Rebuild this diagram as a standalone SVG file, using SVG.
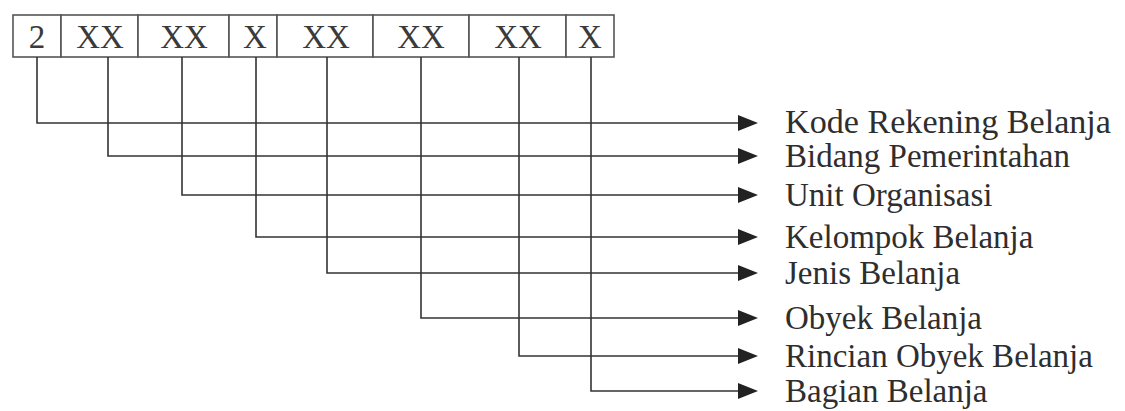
<svg xmlns="http://www.w3.org/2000/svg" width="1125" height="411" viewBox="0 0 1125 411">
<style>
.cell{fill:#fff;stroke:#555;stroke-width:1.6}
.code{font-family:"Liberation Serif","Times New Roman",serif;font-size:33px;fill:#3a3a3a;text-anchor:middle}
.lbl{font-family:"Liberation Serif","Times New Roman",serif;font-size:33px;fill:#2e2e2e}
.conn{fill:none;stroke:#333;stroke-width:1.6;marker-end:url(#ah)}
</style>
<defs>
<marker id="ah" markerUnits="userSpaceOnUse" markerWidth="20" markerHeight="16" viewBox="0 0 20 16" refX="2" refY="8" orient="auto">
<path d="M0,0 L20,8 L0,16 z" fill="#222"/>
</marker>
</defs>
<rect width="1125" height="411" fill="#fff"/>
<g id="code-box">
<g id="c1"><rect class="cell" x="13" y="15" width="48" height="42"/><text class="code" x="37" y="48">2</text></g>
<g id="c2"><rect class="cell" x="61" y="15" width="77" height="42"/><text class="code" x="100" y="48">XX</text></g>
<g id="c3"><rect class="cell" x="138" y="15" width="91" height="42"/><text class="code" x="184" y="48">XX</text></g>
<g id="c4"><rect class="cell" x="229" y="15" width="48" height="42"/><text class="code" x="255" y="48">X</text></g>
<g id="c5"><rect class="cell" x="277" y="15" width="96" height="42"/><text class="code" x="326" y="48">XX</text></g>
<g id="c6"><rect class="cell" x="373" y="15" width="96" height="42"/><text class="code" x="421" y="48">XX</text></g>
<g id="c7"><rect class="cell" x="469" y="15" width="97" height="42"/><text class="code" x="518" y="48">XX</text></g>
<g id="c8"><rect class="cell" x="566" y="15" width="48" height="42"/><text class="code" x="590" y="48">X</text></g>
</g>
<g id="connectors">
<path class="conn" d="M37,57 V123 H740"/>
<path class="conn" d="M108,57 V156 H740"/>
<path class="conn" d="M182,57 V195 H740"/>
<path class="conn" d="M256,57 V237 H740"/>
<path class="conn" d="M327,57 V273 H740"/>
<path class="conn" d="M421,57 V318 H740"/>
<path class="conn" d="M519,57 V356 H740"/>
<path class="conn" d="M591,57 V391 H740"/>
</g>
<g id="labels">
<g id="l1"><text class="lbl" x="785" y="133" textLength="326" lengthAdjust="spacingAndGlyphs">Kode Rekening Belanja</text></g>
<g id="l2"><text class="lbl" x="785" y="167">Bidang Pemerintahan</text></g>
<g id="l3"><text class="lbl" x="785" y="206">Unit Organisasi</text></g>
<g id="l4"><text class="lbl" x="785" y="248">Kelompok Belanja</text></g>
<g id="l5"><text class="lbl" x="785" y="284">Jenis Belanja</text></g>
<g id="l6"><text class="lbl" x="785" y="329">Obyek Belanja</text></g>
<g id="l7"><text class="lbl" x="785" y="367">Rincian Obyek Belanja</text></g>
<g id="l8"><text class="lbl" x="785" y="402">Bagian Belanja</text></g>
</g>
</svg>
